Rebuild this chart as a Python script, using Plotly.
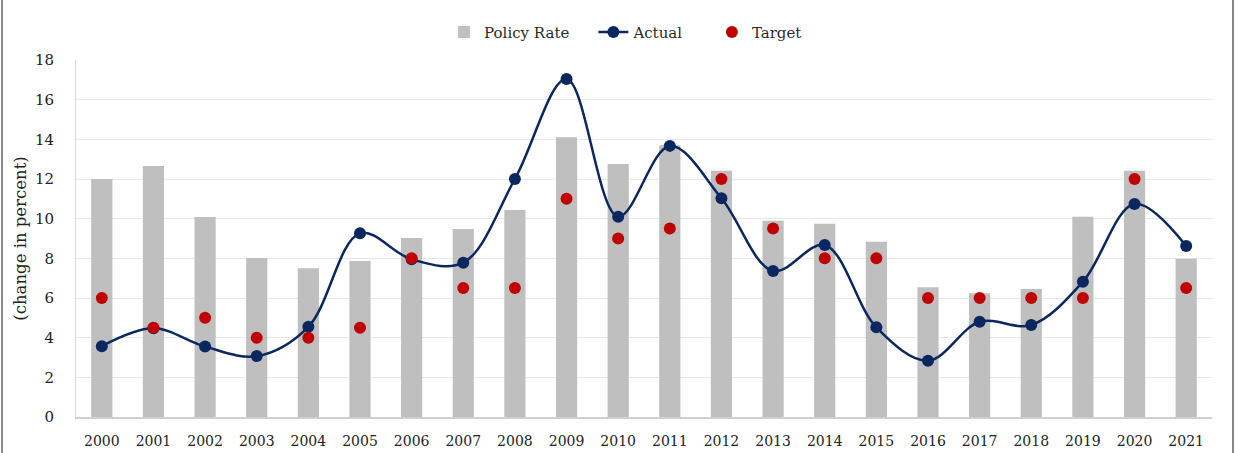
import plotly.graph_objects as go

years = [str(y) for y in range(2000, 2022)]
policy_rate = [12.0, 12.66, 10.09, 8.02, 7.5, 7.87, 9.03, 9.48, 10.44, 14.1, 12.76,
               13.7, 12.42, 9.9, 9.75, 8.84, 6.54, 6.24, 6.45, 10.1, 12.42, 7.98]
actual = [3.57, 4.47, 3.55, 3.07, 4.55, 9.26, 7.95, 7.78, 12.0, 17.04, 10.1,
          13.67, 11.03, 7.36, 8.67, 4.52, 2.84, 4.8, 4.64, 6.82, 10.74, 8.62]
target = [6.0, 4.5, 5.0, 4.0, 4.0, 4.5, 8.0, 6.5, 6.5, 11.0, 9.0,
          9.5, 12.0, 9.5, 8.0, 8.0, 6.0, 6.0, 6.0, 6.0, 12.0, 6.5]
y_ticks = [0, 2, 4, 6, 8, 10, 12, 14, 16, 18]

font_family = "DejaVu Serif"
NB = "\u00a0"

fig = go.Figure()
fig.add_trace(go.Bar(x=years, y=policy_rate, name="Policy Rate" + NB * 4,
                     marker=dict(color="#bfbfbf", line=dict(width=0)), width=0.41))
fig.add_trace(go.Scatter(x=years, y=actual, name="Actual" + NB * 5, mode="lines+markers",
                         line=dict(color="#0b2760", width=2.5, shape="spline", smoothing=1.0),
                         marker=dict(color="#0b2760", size=12)))
fig.add_trace(go.Scatter(x=years, y=target, name="Target", mode="markers",
                         marker=dict(color="#c00000", size=12)))

fig.update_layout(
    width=1235, height=453,
    margin=dict(l=76, r=23, t=60, b=36, autoexpand=False),
    paper_bgcolor="white", plot_bgcolor="white",
    font=dict(family=font_family, size=15, color="#333333"),
    showlegend=True,
    legend=dict(orientation="h", x=0.324, xanchor="left", y=1.078, yanchor="middle",
                font=dict(size=15, color="#2a2a2a"), traceorder="normal",
                bgcolor="rgba(0,0,0,0)"),
    xaxis=dict(type="category", range=[-0.5, 21.5], showgrid=False, showline=True,
               linecolor="#d0d0d0", linewidth=1.5, ticks="", automargin=False,
               ticklabelstandoff=10,
               tickfont=dict(size=14, color="#222222")),
    yaxis=dict(range=[0, 18], tickvals=y_ticks, showgrid=True, gridcolor="#e8e8e8",
               gridwidth=1.2, showline=True, linecolor="#d9d9d9", linewidth=1,
               zeroline=False, ticks="", ticklabelstandoff=18, automargin=False,
               tickfont=dict(size=15, color="#222222"),
               title=dict(text="(change in percent)", font=dict(size=16.5, color="#222222"),
                          standoff=4)),
    shapes=[
        dict(type="line", xref="paper", yref="paper", x0=-0.0651, x1=-0.0651,
             y0=-0.1008, y1=1.168, line=dict(color="#888888", width=2)),
        dict(type="line", xref="paper", yref="paper", x0=1.0185, x1=1.0185,
             y0=-0.1008, y1=1.168, line=dict(color="#888888", width=2)),
    ],
)

fig.write_html("out.html", config={"displayModeBar": False},
               post_script="document.body.style.margin='0';")
